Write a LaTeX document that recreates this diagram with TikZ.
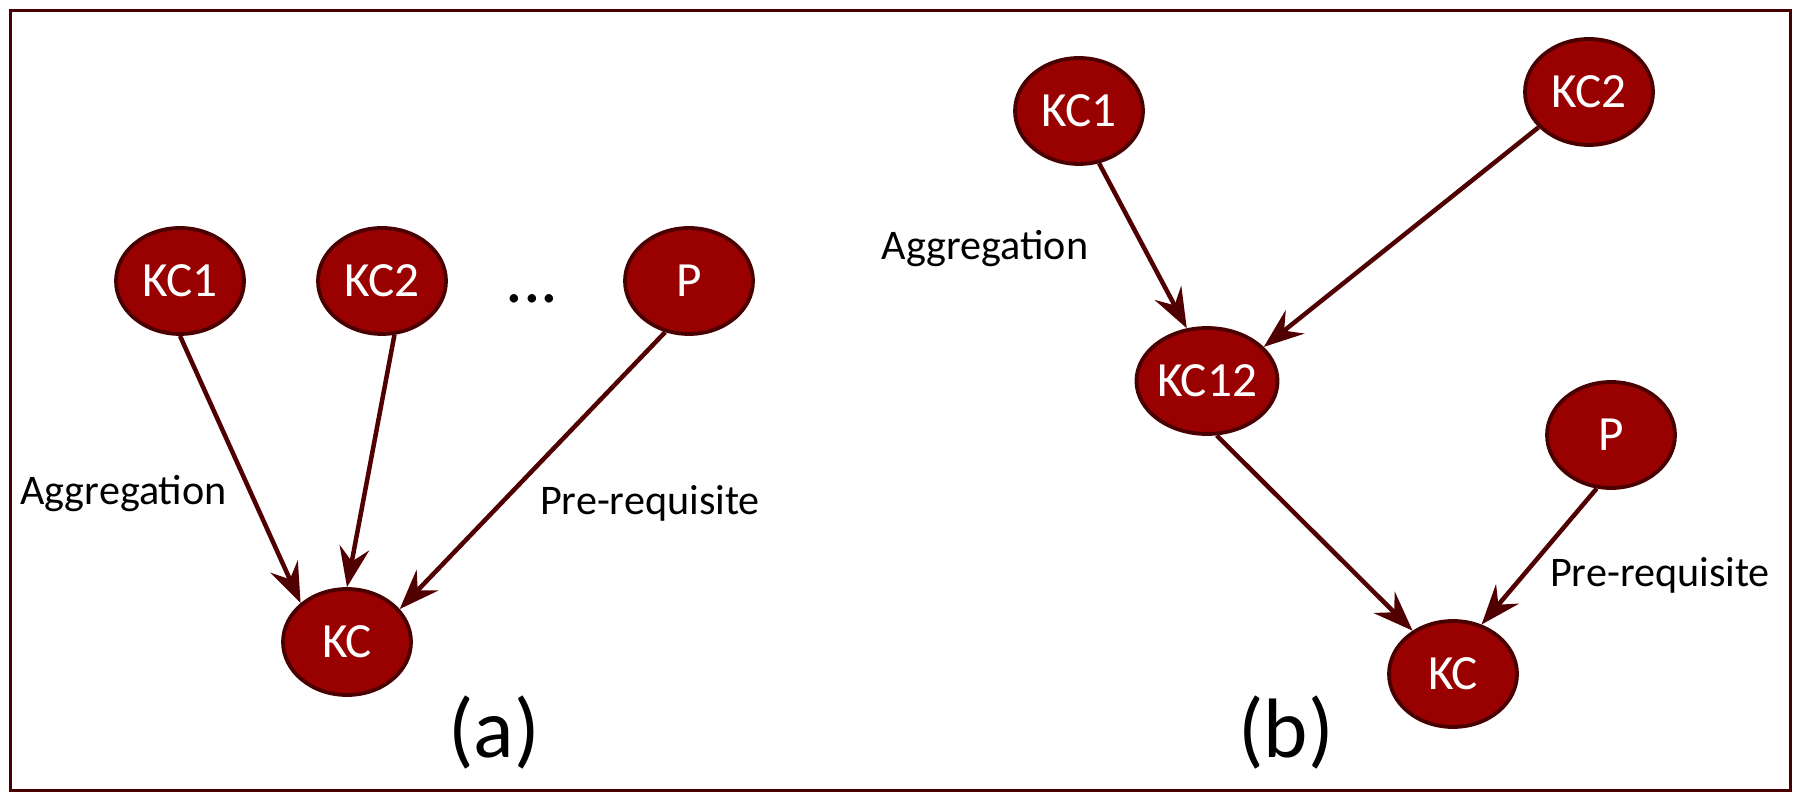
\documentclass[tikz,border=0pt]{standalone}
\usepackage{fontspec}
\setmainfont{Carlito}
\usetikzlibrary{arrows.meta,shapes.geometric}
\definecolor{kcfill}{HTML}{990000}
\definecolor{kcline}{HTML}{4A0000}
\definecolor{edgecol}{HTML}{500000}
\begin{document}
\begin{tikzpicture}[x=0.1mm,y=-0.1mm,
 kc/.style={ellipse, draw=kcline, fill=kcfill, line width=0.38mm, minimum width=12.8mm, minimum height=10.6mm, inner sep=0pt, text=white, font=\fontsize{14}{16}\selectfont},
 link/.style={draw=edgecol, line width=0.45mm, -{Stealth[length=4mm,width=3mm,inset=1.4mm]}},
 lbl/.style={font=\fontsize{12}{14}\selectfont, anchor=base, inner sep=0pt},
 capt/.style={font=\fontsize{24}{28}\selectfont, anchor=base, inner sep=0pt}]
\useasboundingbox (0,0) rectangle (1800,800);
\draw[line width=0.32mm, draw=kcline] (10.5,10.5) rectangle (1790.5,790.5);

% (a)
\node[kc] (a1) at (180,281) {KC1};
\node[kc] (a2) at (382,281) {KC2};
\node[kc] (ap) at (689,281) {P};
\node[kc] (akc) at (347,642) {KC};
\node[font=\fontsize{20}{24}\selectfont, inner sep=0pt, anchor=base] (dots) at (532,303) {...};
\draw[link] (a1.-90) -- (akc.140);
\draw[link] (a2.-77) -- (akc.90);
\draw[link] (ap.-115) -- (akc.32);
\node[lbl] (aagg) at (123.5,505) {Aggregation};
\node[lbl] (apre) at (650,515) {Pre-requisite};
\node[capt] (acap) at (494,758) {(a)};

% (b)
\node[kc] (b1) at (1079,111) {KC1};
\node[kc] (b2) at (1589,92) {KC2};
\node[kc] (b12) at (1207,381) {KC12};
\node[kc] (bp) at (1611,435) {P};
\node[kc] (bkc) at (1453,674) {KC};
\draw[link] (b1.-69) -- (b12.111);
\draw[link] (b2.-145) -- (b12.31);
\draw[link] (b12.-80) -- (bkc.133);
\draw[link] (bp.-105) -- (bkc.60);
\node[lbl] (bagg) at (985,260) {Aggregation};
\node[lbl] (bpre) at (1660,587) {Pre-requisite};
\node[capt] (bcap) at (1286,758) {(b)};
\end{tikzpicture}
\end{document}
